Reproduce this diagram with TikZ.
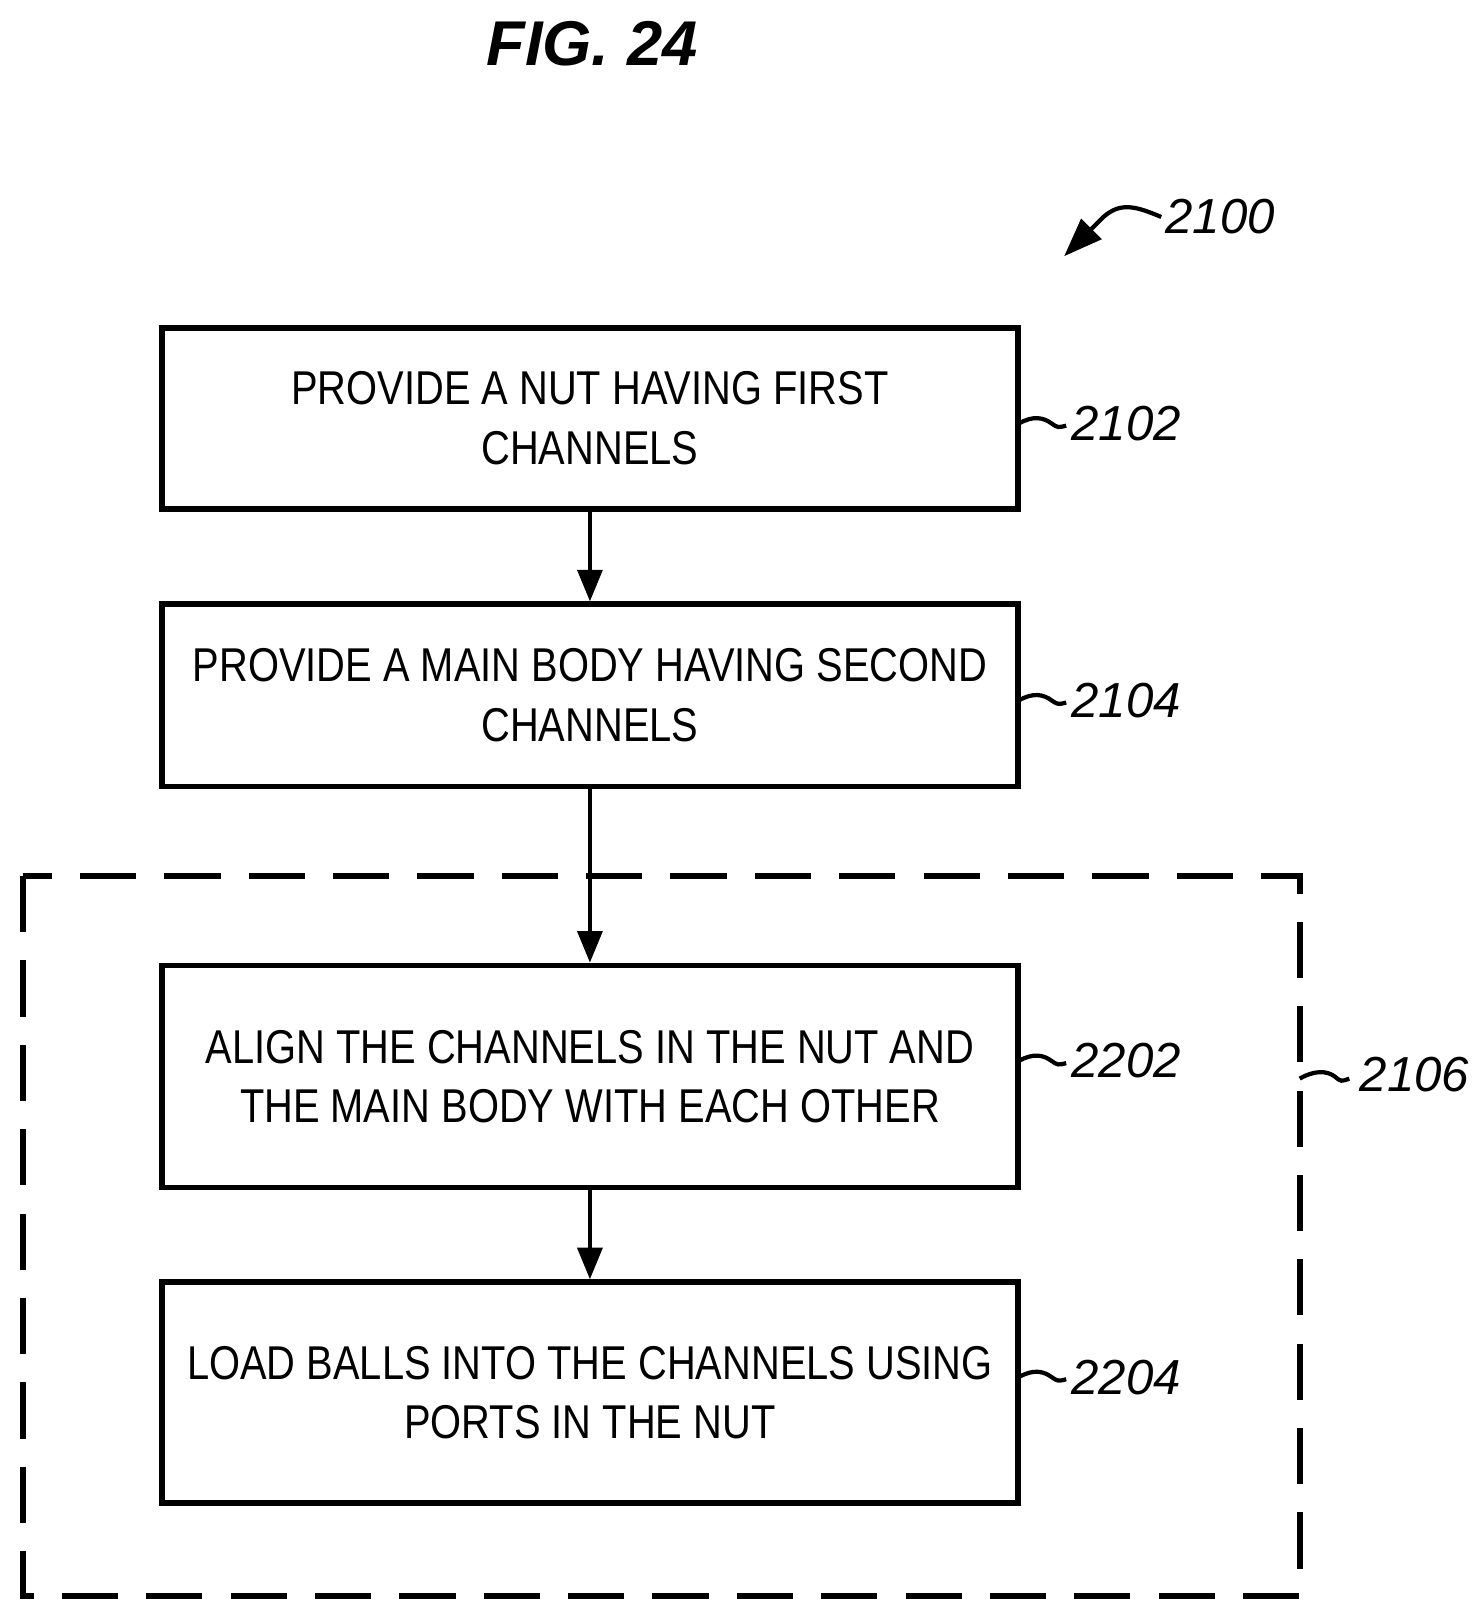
\documentclass[tikz,border=0pt]{standalone}
\usepackage{fontspec}
\setmainfont{Liberation Sans}
\newfontfamily\boxfont[FakeStretch=0.84]{Liberation Sans}
\usetikzlibrary{positioning, arrows.meta}

\begin{document}
\begin{tikzpicture}[x=0.01033cm, y=-0.01033cm,
    procbox/.style={draw, line width=1.6pt, minimum width=8.56cm, align=center,
      font=\boxfont\fontsize{13.5}{17}\selectfont, inner sep=0pt},
    flow/.style={-{Triangle[length=9pt, width=7pt]}, line width=1.3pt},
    refnum/.style={font=\itshape\fontsize{14}{17}\selectfont, anchor=west, inner sep=1pt},
    squig/.style={line width=1.2pt}]
  \useasboundingbox (0,0) rectangle (1426,1569);
  % title
  \node (fig) at (573,42) {\bfseries\itshape\fontsize{18}{22}\selectfont FIG. 24};

  % steps
  \node[procbox, minimum height=1.81cm] (s2102) at (571,405)
    {PROVIDE A NUT HAVING FIRST\\CHANNELS};
  \node[procbox, minimum height=1.82cm] (s2104) at (571,673)
    {PROVIDE A MAIN BODY HAVING SECOND\\CHANNELS};
  \node[procbox, minimum height=2.22cm] (s2202) at (571,1042)
    {ALIGN THE CHANNELS IN THE NUT AND\\THE MAIN BODY WITH EACH OTHER};
  \node[procbox, minimum height=2.21cm] (s2204) at (571,1348)
    {LOAD BALLS INTO THE CHANNELS USING\\PORTS IN THE NUT};

  % dashed group
  \draw[line width=1.6pt, dash pattern=on 16pt off 8pt] (22,848) rectangle (1258,1545);

  % arrows
  \draw[flow] (s2102) -- (s2104);
  \draw[flow] (s2104) -- (s2202);
  \draw[flow] (s2202) -- (s2204);

  % reference numerals
  \foreach \n/\y in {2102/410, 2104/678, 2202/1027, 2204/1333}{
    \draw[squig] (986,\y) .. controls (1000,\y-8) and (1010,\y-6) .. (1018,\y)
      .. controls (1024,\y+4) .. (1032,\y+2);
    \node[refnum] (r\n) at (1033,\y) {\n};
  }
  \draw[squig] (1258,1044) .. controls (1272,1036) and (1284,1036) .. (1292,1042)
    .. controls (1298,1047) .. (1306,1044);
  \node[refnum] (r2106) at (1312,1040) {2106};

  \node[refnum] (r2100) at (1124,210) {2100};
  \draw[squig, -{Triangle[length=11pt, width=8pt]}] (r2100.west)
    .. controls (1100,200) and (1085,195) .. (1068,210) -- (1030,248);
\end{tikzpicture}
\end{document}
